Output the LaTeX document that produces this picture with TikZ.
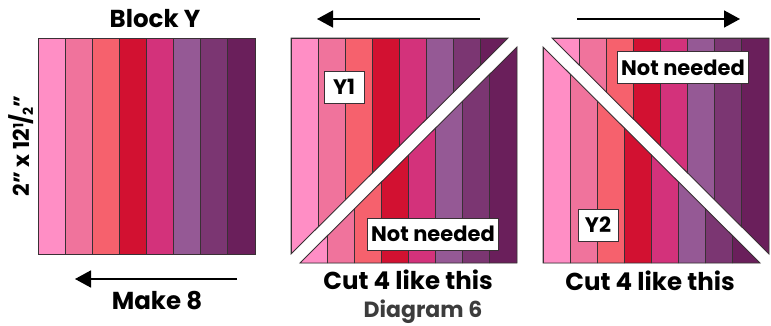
\documentclass[tikz,border=0pt]{standalone}
\usepackage{fontspec}
\setmainfont{Poppins}
\usepackage{tkz-euclide}
\usetikzlibrary{arrows.meta}
\definecolor{stripa}{HTML}{FF8EC5}
\definecolor{stripb}{HTML}{F0739C}
\definecolor{stripc}{HTML}{F6616D}
\definecolor{stripd}{HTML}{D21131}
\definecolor{stripe}{HTML}{D3327B}
\definecolor{stripf}{HTML}{955995}
\definecolor{stripg}{HTML}{7B3672}
\definecolor{striph}{HTML}{6A1F5B}
\definecolor{seamgray}{HTML}{3A3035}
\definecolor{diaggray}{HTML}{3C3C3C}

\tikzset{
  seam/.style={draw=seamgray, line width=0.9pt},
  tag/.style={fill=white, draw=seamgray, line width=0.8pt, inner xsep=4pt,
    minimum height=32pt, minimum width=40pt, font=\bfseries\fontsize{21}{21}\selectfont},
  caption/.style={font=\bfseries\fontsize{24.5}{24.5}\selectfont},
  cutarrow/.style={-{Triangle[length=16pt,width=17pt]}, line width=1.6pt}
}

% eight strips of one square, top left corner at (#1,#2)
\newcommand{\quiltstrips}[2]{%
  \foreach \shade [count=\k from 0] in {stripa,stripb,stripc,stripd,stripe,stripf,stripg,striph}
    \filldraw[fill=\shade, seam] ({#1+\k*27.125},#2) rectangle ++(27.125,216);
}

\begin{document}
\begin{tikzpicture}[x=1pt, y=-1pt]
      \useasboundingbox (0,0) rectangle (771,326);
      \tkzDefPoints{291/38/A, 508/38/B, 291/254/C, 517/47/D, 517/263/E, 300/263/F}
      \tkzDefPoints{543/47/G, 543/263/H, 760/263/I, 552/38/J, 769/38/K, 769/254/L}

      % block Y
      \quiltstrips{38}{38}
      \draw[seam] (38,38) rectangle ++(217,216);

      % left cut, upper piece kept
      \begin{scope}
        \clip (A) -- (B) -- (C) -- cycle;
        \quiltstrips{291}{38}
      \end{scope}
      \draw[seam] (A) -- (B) -- (C) -- cycle;
      \begin{scope}
        \clip (D) -- (E) -- (F) -- cycle;
        \quiltstrips{300}{47}
      \end{scope}
      \draw[seam] (D) -- (E) -- (F) -- cycle;

      % right cut, lower piece kept
      \begin{scope}
        \clip (G) -- (H) -- (I) -- cycle;
        \quiltstrips{543}{47}
      \end{scope}
      \draw[seam] (G) -- (H) -- (I) -- cycle;
      \begin{scope}
        \clip (J) -- (K) -- (L) -- cycle;
        \quiltstrips{552}{38}
      \end{scope}
      \draw[seam] (J) -- (K) -- (L) -- cycle;

      % arrows
      \coordinate (makeS) at (237,279);
      \coordinate (makeE) at (75,279);
      \coordinate (leftS) at (480,19);
      \coordinate (leftE) at (317,19);
      \coordinate (rightS) at (577,19);
      \coordinate (rightE) at (740,19);
      \draw[cutarrow] (makeS) -- (makeE);
      \draw[cutarrow] (leftS) -- (leftE);
      \draw[cutarrow] (rightS) -- (rightE);

      % texts
      \node[caption] (blocky) at (155,19) {Block Y};
      \node[caption, rotate=90, font=\bfseries\fontsize{22}{22}\selectfont] (size) at (21,146)
        {2" x 12\raisebox{0.5ex}{\fontsize{14}{14}\selectfont 1}\kern-1pt/\kern-1pt\raisebox{-0.3ex}{\fontsize{14}{14}\selectfont 2}"};
      \node[caption] (make) at (157,301) {Make 8};
      \node[tag] (yone) at (344,87) {Y1};
      \node[tag] (notA) at (433,234) {Not needed};
      \node[caption] (cutA) at (408,280) {Cut 4 like this};
      \node[caption, text=diaggray, font=\bfseries\fontsize{22}{22}\selectfont] (diag) at (423,312) {Diagram 6};
      \node[tag] (notB) at (683,67.5) {Not needed};
      \node[tag] (ytwo) at (598,225) {Y2};
      \node[caption] (cutB) at (650,281) {Cut 4 like this};
    \end{tikzpicture}
\end{document}
